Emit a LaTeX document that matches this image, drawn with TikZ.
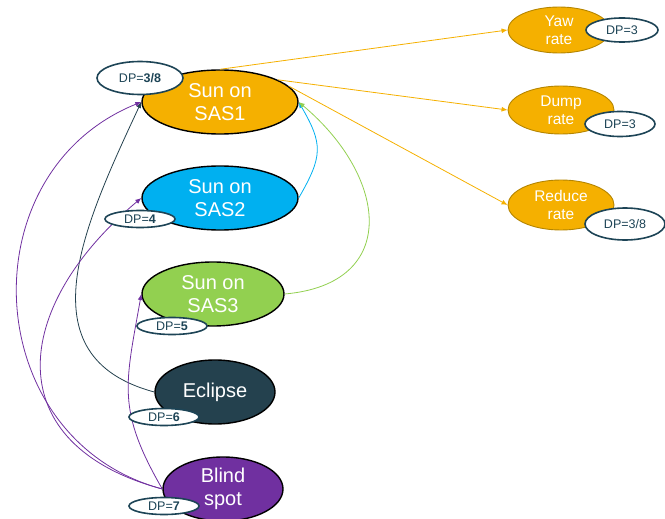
\documentclass[tikz,border=0pt]{standalone}
\usepackage{fontspec}
\setmainfont{Liberation Sans}
\usepackage{tikz}
\usetikzlibrary{arrows.meta, shapes.geometric}

\definecolor{sunorange}{HTML}{F5B000}
\definecolor{rateedge}{HTML}{B58500}
\definecolor{sasblue}{HTML}{00B0F0}
\definecolor{sasgreen}{HTML}{92D050}
\definecolor{eclipsecol}{HTML}{24414E}
\definecolor{blindcol}{HTML}{7030A0}
\definecolor{dpedge}{HTML}{1D4456}

\begin{document}
\begin{tikzpicture}[
    x=1pt, y=1pt,
    state/.style={ellipse, draw=black, line width=1.4pt, text=white, inner sep=0pt, align=center, minimum height=64pt, font=\fontsize{20}{23}\selectfont},
    ratestate/.style={ellipse, draw=rateedge, line width=0.9pt, fill=sunorange, text=white, inner sep=0pt, align=center, font=\fontsize{15.5}{18.5}\selectfont},
    dplabel/.style={ellipse, draw=dpedge, line width=1.6pt, fill=white, text=dpedge, inner sep=0pt, minimum width=70pt, minimum height=17pt, font=\fontsize{12.5}{14}\selectfont},
    link/.style={-{Latex[length=6pt, width=5pt]}, line width=0.8pt}
]
\useasboundingbox (0,0) rectangle (665,-519);

% sun sensor states, left column
\node[state, fill=sunorange, minimum width=156pt] (sas1) at (220,-102) {Sun on\\SAS1};
\node[state, fill=sasblue, minimum width=156pt] (sas2) at (220,-198) {Sun on\\SAS2};
\node[state, fill=sasgreen, minimum width=142pt] (sas3) at (213,-294) {Sun on\\SAS3};
\node[state, fill=eclipsecol, minimum width=120pt] (eclipse) at (215,-392) {Eclipse};
\node[state, fill=blindcol, minimum width=120pt] (blind) at (223,-489) {Blind\\spot};

% rate states, right column
\node[ratestate, minimum width=102pt, minimum height=46pt] (yaw) at (559,-30) {Yaw\\rate};
\node[ratestate, minimum width=106pt, minimum height=48pt] (dump) at (561,-110) {Dump\\rate};
\node[ratestate, minimum width=106pt, minimum height=50pt] (reduce) at (561,-205) {Reduce\\rate};

% transitions
\draw[link, sunorange] (sas1.north) -- (yaw.west);
\draw[link, sunorange] (sas1.21) -- (dump.west);
\draw[link, sunorange] (sas1.13) -- (reduce.west);
\draw[link, sasblue] (sas2.east) to[out=60, in=-60, looseness=1.3] (sas1.east);
\draw[link, sasgreen] (sas3.east) to[out=5, in=-40, looseness=1.55] (sas1.east);
\draw[link, eclipsecol] (eclipse.west) to[out=165, in=-115, looseness=1.2] (sas1.west);
\draw[link, blindcol] (blind.west) to[out=165, in=-158, looseness=1.25] (sas1.west);
\draw[link, blindcol] (blind.west) to[out=165, in=-140, looseness=1.5] (sas2.west);
\draw[link, blindcol] (blind.west) to[out=120, in=-100, looseness=1.2] (sas3.west);

% DP tags
\node[dplabel, minimum width=86pt, minimum height=33pt] (dpsas1) at (140,-78) {DP=\textbf{3/8}};
\node[dplabel] (dpsas2) at (140,-219) {DP=\textbf{4}};
\node[dplabel] (dpsas3) at (172,-326) {DP=\textbf{5}};
\node[dplabel] (dpeclipse) at (164,-417) {DP=\textbf{6}};
\node[dplabel] (dpblind) at (164,-506) {DP=\textbf{7}};
\node[dplabel, minimum width=72pt, minimum height=24pt] (dpyaw) at (622,-30) {DP=3};
\node[dplabel, minimum width=70pt, minimum height=25pt] (dpdump) at (620,-124) {DP=3};
\node[dplabel, minimum width=80pt, minimum height=32pt] (dpreduce) at (625,-224) {DP=3/8};
\end{tikzpicture}
\end{document}
